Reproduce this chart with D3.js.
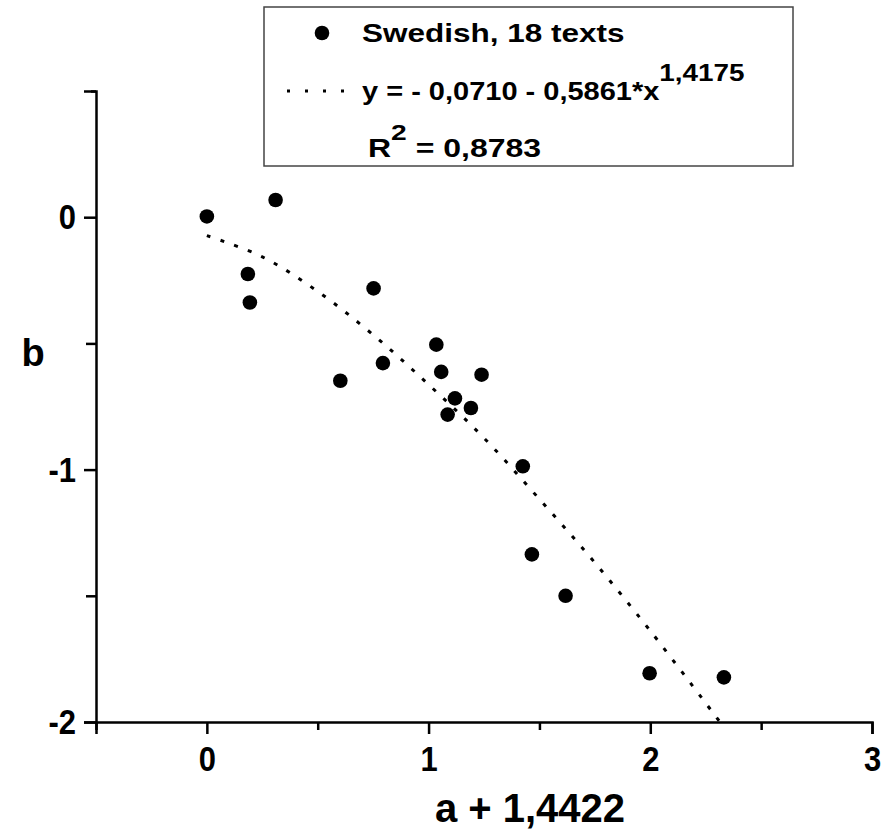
<!DOCTYPE html>
<html>
<head>
<meta charset="utf-8">
<script src="https://cdn.jsdelivr.net/npm/d3@7"></script>
<style>
  body { margin: 0; background: #fff; }
  svg { display: block; }
  text { font-family: "Liberation Sans", Arial, sans-serif; font-weight: bold; fill: #000; }
</style>
</head>
<body>
<svg id="chart" width="884" height="832"></svg>
<script>
// scatter points
var ptX = [0.000, 0.310, 0.185, 0.194, 0.602, 0.752, 0.794, 1.035, 1.057,
           1.119, 1.086, 1.239, 1.191, 1.425, 1.466, 1.618, 1.997, 2.332];
var ptY = [0.003, 0.068, -0.225, -0.338, -0.648, -0.282, -0.578, -0.505, -0.613,
           -0.718, -0.782, -0.624, -0.756, -0.987, -1.336, -1.500, -1.807, -1.823];

// dotted fit curve
var fitX = [0, 0.25, 0.5, 0.75, 1.0, 1.25, 1.5, 1.75, 2.0, 2.31];
var fitY = [-0.073, -0.157, -0.294, -0.466, -0.663, -0.875, -1.117, -1.369, -1.639, -1.995];

var xTicks = [-0.5, 0, 0.5, 1, 1.5, 2, 2.5, 3];
var xLabels = ["", "0", "", "1", "", "2", "", "3"];
var yTicks = [-2, -1.5, -1, -0.5, 0, 0.5];
var yLabels = ["-2", "", "-1", "", "0", ""];

var legendSeries = "Swedish, 18 texts";
var legendFit = "y = - 0,0710 - 0,5861*x";
var legendFitExp = "1,4175";
var legendR2 = "0,8783";
var xTitle = "a + 1,4422";
var yTitle = "b";

var svg = d3.select("#chart");

var x = d3.scaleLinear().domain([-0.5, 3]).range([96, 872]);
var y = d3.scaleLinear().domain([-2, 0.5]).range([722, 91]);

var narrow = 0.86;   // tick lettering is a little condensed

// x axis
var gx = svg.append("g")
  .attr("transform", "translate(0," + y(-2) + ")")
  .call(d3.axisBottom(x)
    .tickValues(xTicks)
    .tickSizeOuter(0)
    .tickSize(12)
    .tickPadding(11)
    .tickFormat(function(d, i) { return xLabels[i]; }));
gx.select(".domain").attr("stroke-width", 2.5);
gx.selectAll(".tick line").attr("stroke-width", 2.5)
  .attr("y2", function(d) { return d % 1 === 0 ? 12 : 8; });
gx.selectAll(".tick text")
  .attr("font-size", 36)
  .attr("transform", "scale(" + narrow + ",1)");

// y axis
var gy = svg.append("g")
  .attr("transform", "translate(" + x(-0.5) + ",0)")
  .call(d3.axisLeft(y)
    .tickValues(yTicks)
    .tickSizeOuter(0)
    .tickSize(12)
    .tickPadding(8)
    .tickFormat(function(d, i) { return yLabels[i]; }));
gy.select(".domain").attr("stroke-width", 2.5);
gy.selectAll(".tick line").attr("stroke-width", 2.5)
  .attr("x2", function(d) { return d === 0.5 ? -5 : (d % 1 === 0 ? -12 : -10); });
gy.selectAll(".tick text")
  .attr("font-size", 36)
  .attr("x", -20 / narrow)
  .attr("transform", "scale(" + narrow + ",1)");

svg.selectAll(".tick text").attr("font-family", null).style("font-weight", "bold");

// titles
svg.append("text")
  .attr("x", 530).attr("y", 822)
  .attr("text-anchor", "middle")
  .attr("font-size", 40)
  .text(xTitle);

svg.append("text")
  .attr("x", 33).attr("y", 366)
  .attr("text-anchor", "middle")
  .attr("font-size", 38)
  .text(yTitle);

// fit curve
var fitData = fitX.map(function(d, i) { return [d, fitY[i]]; });
var line = d3.line()
  .x(function(d) { return x(d[0]); })
  .y(function(d) { return y(d[1]); })
  .curve(d3.curveCatmullRom);

svg.append("path")
  .datum(fitData)
  .attr("d", line)
  .attr("fill", "none")
  .attr("stroke", "#000")
  .attr("stroke-width", 3)
  .attr("stroke-dasharray", "4 10.5");

// points
var pts = ptX.map(function(d, i) { return [d, ptY[i]]; });
svg.append("g").selectAll("circle")
  .data(pts)
  .enter().append("circle")
  .attr("cx", function(d) { return x(d[0]); })
  .attr("cy", function(d) { return y(d[1]); })
  .attr("r", 7.3)
  .attr("fill", "#000");

// legend (its lettering is drawn wider than tall)
var lg = svg.append("g");
lg.append("rect")
  .attr("x", 264).attr("y", 7)
  .attr("width", 529).attr("height", 159)
  .attr("fill", "#fff")
  .attr("stroke", "#444")
  .attr("stroke-width", 1.5);

lg.append("circle").attr("cx", 322).attr("cy", 33).attr("r", 7.3).attr("fill", "#000");
lg.append("text")
  .attr("transform", "translate(362,42) scale(1.26,1)")
  .attr("font-size", 25)
  .text(legendSeries);

lg.append("line")
  .attr("x1", 287).attr("x2", 345)
  .attr("y1", 91).attr("y2", 91)
  .attr("stroke", "#000").attr("stroke-width", 3)
  .attr("stroke-dasharray", "3 15");

var eq = lg.append("text")
  .attr("transform", "translate(362,100) scale(1.16,1)")
  .attr("font-size", 25);
eq.append("tspan").text(legendFit);
eq.append("tspan").attr("dy", -19).attr("font-size", 24).text(legendFitExp);

var r2 = lg.append("text")
  .attr("transform", "translate(368,157) scale(1.28,1)")
  .attr("font-size", 25);
r2.append("tspan").text("R");
r2.append("tspan").attr("dy", -17).attr("font-size", 22).text("2");
r2.append("tspan").attr("dy", 17).text(" = " + legendR2);
</script>
</body>
</html>
